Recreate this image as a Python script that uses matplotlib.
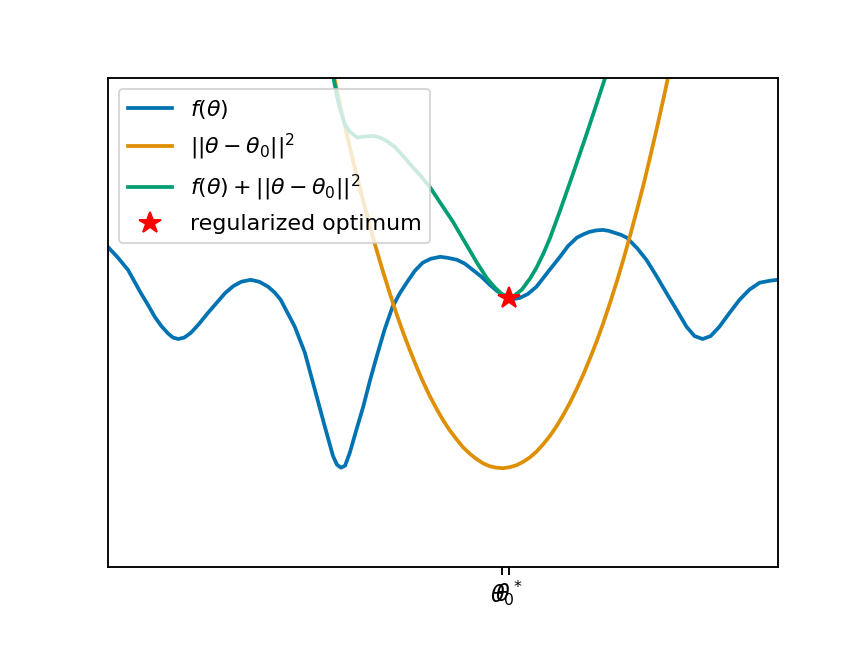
import matplotlib.pyplot as plt

plt.rcParams['font.size'] = 12
plt.rcParams['axes.linewidth'] = 1.0

# f(theta)
theta_f = [0.00, 0.15, 0.30, 0.49, 0.60, 0.70, 0.80, 0.90, 0.97, 1.05, 1.14, 1.24,
           1.36, 1.49, 1.75, 1.87, 1.99, 2.13, 2.26, 2.39, 2.49, 2.58, 2.79, 2.94,
           3.09, 3.24, 3.36, 3.42, 3.48, 3.54, 3.61, 3.70, 3.81, 3.91, 4.01, 4.13,
           4.25, 4.36, 4.46, 4.58, 4.70, 4.82, 4.96, 5.07, 5.21, 5.33, 5.45, 5.58,
           5.70, 5.81, 5.90, 5.99, 6.07, 6.15, 6.27, 6.40, 6.57, 6.75, 6.87, 7.00,
           7.10, 7.19, 7.29, 7.39, 7.48, 7.57, 7.66, 7.75, 7.90, 8.04, 8.19, 8.34,
           8.49, 8.64, 8.76, 8.88, 9.00, 9.13, 9.28, 9.43, 9.58, 9.73, 9.88, 10.00]
f_vals = [6.54, 6.32, 6.07, 5.60, 5.35, 5.11, 4.92, 4.77, 4.69, 4.66, 4.69, 4.79,
          4.97, 5.19, 5.60, 5.74, 5.83, 5.87, 5.83, 5.73, 5.61, 5.46, 4.91, 4.38,
          3.62, 2.86, 2.27, 2.09, 2.03, 2.07, 2.33, 2.76, 3.27, 3.80, 4.29, 4.85,
          5.32, 5.60, 5.81, 6.05, 6.22, 6.30, 6.34, 6.32, 6.28, 6.20, 6.07, 5.93,
          5.77, 5.64, 5.56, 5.50, 5.48, 5.50, 5.58, 5.73, 6.03, 6.34, 6.56, 6.73,
          6.80, 6.85, 6.88, 6.89, 6.87, 6.83, 6.79, 6.73, 6.52, 6.28, 5.95, 5.60,
          5.26, 4.91, 4.72, 4.66, 4.72, 4.91, 5.19, 5.46, 5.67, 5.81, 5.85, 5.87]

# ||theta - theta0||^2 (shifted)
theta_q = [3.2, 3.3, 3.4, 3.5, 3.6, 3.7, 3.8, 3.9, 4.0, 4.1, 4.2, 4.3, 4.4, 4.5,
           4.6, 4.7, 4.8, 4.9, 5.0, 5.1, 5.2, 5.3, 5.4, 5.5, 5.6, 5.7, 5.8, 5.9,
           6.0, 6.1, 6.2, 6.3, 6.4, 6.5, 6.6, 6.7, 6.8, 6.9, 7.0, 7.1, 7.2, 7.3,
           7.4, 7.5, 7.6, 7.7, 7.8, 7.9, 8.0, 8.1, 8.2, 8.3, 8.4, 8.5]
q_vals = [11.14, 10.51, 9.86, 9.24, 8.65, 8.08, 7.54, 7.02, 6.53, 6.07, 5.63, 5.21,
          4.82, 4.46, 4.12, 3.80, 3.51, 3.25, 3.01, 2.80, 2.62, 2.45, 2.32, 2.21,
          2.12, 2.06, 2.03, 2.02, 2.04, 2.08, 2.15, 2.24, 2.36, 2.51, 2.68, 2.88,
          3.11, 3.36, 3.64, 3.94, 4.27, 4.62, 5.00, 5.41, 5.84, 6.30, 6.79, 7.30,
          7.83, 8.40, 8.99, 9.60, 10.24, 10.91]

# f(theta) + ||theta - theta0||^2
theta_g = [3.30, 3.36, 3.42, 3.46, 3.54, 3.61, 3.72, 3.84, 3.96, 4.06, 4.16, 4.28,
           4.40, 4.54, 4.66, 4.81, 4.97, 5.15, 5.33, 5.51, 5.66, 5.78, 5.88, 5.99,
           6.07, 6.18, 6.30, 6.40, 6.50, 6.60, 6.75, 6.94, 7.15, 7.30, 7.42, 7.57]
g_vals = [10.60, 10.05, 9.62, 9.38, 9.04, 8.90, 8.78, 8.80, 8.81, 8.78, 8.71, 8.59,
          8.41, 8.19, 8.01, 7.76, 7.43, 7.06, 6.64, 6.22, 5.90, 5.71, 5.58, 5.52,
          5.55, 5.67, 5.89, 6.12, 6.40, 6.72, 7.28, 8.02, 8.86, 9.48, 9.98, 10.62]

theta0 = 5.885
theta_star = 5.985
f_star = 5.50

fig, ax = plt.subplots(figsize=(6.4, 4.8), dpi=135)
fig.subplots_adjust(left=0.125, right=0.9, bottom=0.125, top=0.88)

ax.plot(theta_f, f_vals, color='#0173b2', lw=2, label=r'$f(\theta)$')
ax.plot(theta_q, q_vals, color='#de8f05', lw=2, label=r'$||\theta - \theta_0||^2$')
ax.plot(theta_g, g_vals, color='#029e73', lw=2,
        label=r'$f(\theta) + ||\theta - \theta_0||^2$')
ax.plot([theta_star], [f_star], 'r*', markersize=12, label='regularized optimum')

ax.set_xlim(0, 10)
ax.set_ylim(0, 10)
ax.set_xticks([theta0, theta_star])
ax.set_xticklabels([r'$\theta_0$', r'$\theta^*$'])
ax.tick_params(axis='x', length=4.5, width=1.0)
ax.set_yticks([])
ax.legend(loc='upper left', fontsize=11.8)

fig.savefig('out.png')
